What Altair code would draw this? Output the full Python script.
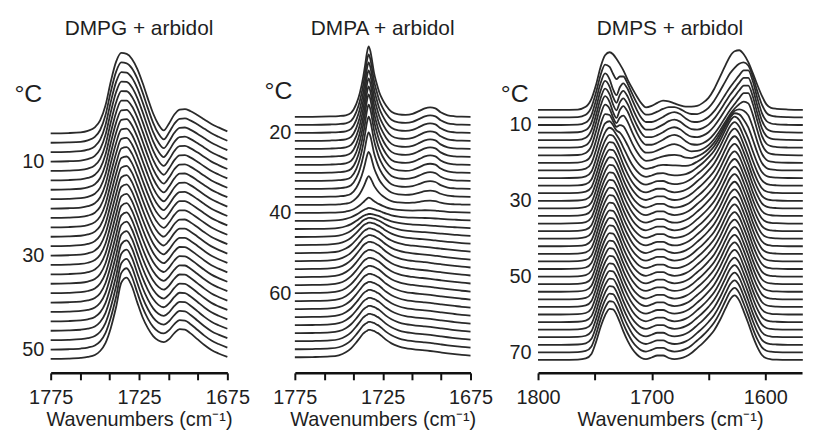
import altair as alt
import pandas as pd

FONT = "Liberation Sans"
INK = "#1e1e1e"
LINE = "#2a2a2a"

TITLES = ["DMPG + arbidol", "DMPA + arbidol", "DMPS + arbidol"]
X_TITLE = "Wavenumbers (cm\u207b\u00b9)"

# ---------------- Panel 1: DMPG + arbidol ----------------
P1_WN = [1775, 1765, 1758, 1754, 1750, 1747, 1744, 1741, 1738, 1735, 1732, 1729, 1726, 1723,
         1720, 1717, 1714, 1711, 1708, 1705, 1702, 1699, 1696, 1692, 1688, 1684, 1680, 1675]
# absorbance profile (arb. units) of the coldest spectrum
P1_COLD = [0, 0.3, 1, 2.5, 6, 13, 28, 52, 72, 81, 80, 75, 65, 51,
           35, 20, 9, 3, 10, 19, 24, 24.5, 22.5, 18.5, 14, 9.5, 6, 2]
# absorbance profile of the warmest spectrum
P1_WARM = [0, 0.3, 1, 2, 4, 8, 16, 31, 52, 77, 82, 73, 57, 42,
           31, 23, 18.5, 17, 20, 26, 30, 29.5, 26, 20, 14, 9, 5.5, 2]
P1_TEMPS = [4, 6, 8, 10, 12, 14, 16, 18, 20, 22, 24, 26, 28, 30, 32, 34, 36, 38, 40, 42, 44, 46, 48, 50, 52]
P1_WARM_SHARE = [0.0, 0.03, 0.07, 0.11, 0.15, 0.19, 0.23, 0.27, 0.31, 0.35, 0.39, 0.43, 0.47,
                 0.51, 0.55, 0.59, 0.63, 0.67, 0.71, 0.75, 0.8, 0.85, 0.9, 0.95, 1.0]
P1_X_TICKS = [1775, 1758.333, 1741.667, 1725, 1708.333, 1691.667, 1675]
P1_Y_LABELS = [10, 30, 50]

# ---------------- Panel 2: DMPA + arbidol ----------------
P2_WN = [1775, 1765, 1755, 1750, 1746, 1743, 1740, 1738, 1736, 1735, 1734, 1733, 1732, 1731,
         1730, 1728.5, 1727, 1725, 1723, 1720, 1716, 1712, 1708, 1704, 1701, 1698, 1695, 1692,
         1688, 1684, 1680, 1675]
P2_SHARP = [0, 0, 0.3, 0.7, 1.5, 4, 13, 24, 41, 52, 64, 71, 66, 56,
            45, 34, 25, 17, 11, 5, 2.5, 2, 3, 6, 8.5, 9.5, 8.5, 4.5,
            1.5, 0.5, 0.2, 0]
P2_BROAD = [0, 0.2, 0.8, 2, 5, 9, 15, 19.5, 24, 25.5, 26.5, 27.5, 27.5, 27,
            26.5, 25, 23.5, 20.5, 17.5, 14, 11, 9.2, 8.2, 7.4, 6.9, 6.3, 5.6, 4.9,
            4, 3.2, 2.4, 1.6]
P2_TEMPS = [16, 18, 20, 22, 24, 26, 28, 30, 32, 34, 36, 38, 40, 42, 44, 46, 48, 50, 52, 54,
            56, 58, 60, 62, 64, 66, 68, 70, 72, 74, 76]
P2_SHARP_SHARE = [1, 1, 1, 1, 1, 1, 1, 0.97, 0.9, 0.78, 0.6, 0.35, 0.12, 0.03, 0, 0,
                  0, 0, 0, 0, 0, 0, 0, 0, 0, 0, 0, 0, 0, 0, 0]
P2_BROAD_SHARE = [0, 0, 0, 0, 0, 0, 0, 0, 0.03, 0.06, 0.1, 0.15, 0.25, 0.4, 0.55, 0.7,
                  0.82, 0.9, 0.95, 1, 1, 1, 1, 1, 1, 1, 1, 1, 1, 1, 1]
P2_X_TICKS = [1775, 1758.333, 1741.667, 1725, 1708.333, 1691.667, 1675]
P2_Y_LABELS = [20, 40, 60]

# ---------------- Panel 3: DMPS + arbidol ----------------
P3_WN = [1800, 1780, 1765, 1758, 1753, 1749, 1745, 1741, 1737, 1734, 1731, 1728, 1725, 1721,
         1717, 1713, 1709, 1705, 1700, 1695, 1690, 1685, 1680, 1675, 1670, 1665, 1660, 1655,
         1650, 1645, 1640, 1635, 1631, 1627, 1623, 1619, 1615, 1611, 1607, 1603, 1599, 1595,
         1590, 1580, 1567]
P3_FIRST = [0, 0, 0.3, 3, 11, 25, 43, 55, 58, 56, 51.5, 46, 40, 30,
            21.5, 13.5, 6.5, 2.5, 4, 7, 9.3, 8.5, 6.5, 4.5, 3.3, 3.3, 4, 7,
            12, 21, 33, 45, 54, 59, 60, 56, 48, 37, 25, 14, 5.5, 2,
            1, 0.3, 0]
P3_GEL = [0, 0, 0.3, 2.5, 10, 25, 42, 52, 46, 36, 30, 38, 42, 36,
          25, 15, 7, 3, 3, 5, 8, 11.5, 13, 11, 6.5, 3.5, 3, 4.5,
          8, 14, 22, 31, 38, 44, 50, 55, 55, 44, 27, 12, 4, 1.5,
          0.7, 0.2, 0]
P3_FLUID = [0, 0, 0.3, 1.5, 6, 18, 33, 45, 51.5, 51, 46, 38, 29, 19,
            11, 5.5, 2, 0.8, 2.5, 4.5, 4.5, 2, 0.8, 1.5, 3.5, 7, 12, 17,
            23, 30, 40, 52, 61, 65, 60, 49, 37, 24, 13, 5, 1.7, 0.7,
            0.3, 0, 0]
P3_TEMPS = [6, 8, 10, 12, 14, 16, 18, 20, 22, 24, 26, 28, 30, 32, 34, 36, 38, 40, 42, 44,
            46, 48, 50, 52, 54, 56, 58, 60, 62, 64, 66, 68, 70, 72]
P3_FIRST_SHARE = [1, 0.4, 0, 0, 0, 0, 0, 0, 0, 0, 0, 0, 0, 0, 0, 0, 0, 0, 0, 0,
                  0, 0, 0, 0, 0, 0, 0, 0, 0, 0, 0, 0, 0, 0]
P3_GEL_SHARE = [0, 0.6, 1, 1, 1, 1, 0.85, 0.6, 0.35, 0.15, 0.05, 0, 0, 0, 0, 0, 0, 0, 0, 0,
                0, 0, 0, 0, 0, 0, 0, 0, 0, 0, 0, 0, 0, 0]
P3_FLUID_SHARE = [0, 0, 0, 0, 0, 0, 0.15, 0.4, 0.65, 0.85, 0.95, 1, 1, 1, 1, 1, 1, 1, 1, 1,
                  1, 1, 1, 1, 1, 1, 1, 1, 1, 1, 1, 1, 1, 1]
P3_X_TICKS = [1800, 1750, 1700, 1650, 1600]
P3_Y_LABELS = [10, 30, 50, 70]

# absorbance units per degree of vertical offset, per panel
UNITS_PER_DEG = [4.735, 4.038, 3.818]


def build(temps, wn, profiles, shares, units):
    rows = []
    for i, t in enumerate(temps):
        for j, w in enumerate(wn):
            h = sum(p[j] * s[i] for p, s in zip(profiles, shares))
            rows.append({"T": t, "wn": w, "y": t - h / units})
    return pd.DataFrame(rows)


df1 = build(P1_TEMPS, P1_WN, [P1_COLD, P1_WARM],
            [[1 - s for s in P1_WARM_SHARE], P1_WARM_SHARE], UNITS_PER_DEG[0])
df2 = build(P2_TEMPS, P2_WN, [P2_SHARP, P2_BROAD],
            [P2_SHARP_SHARE, P2_BROAD_SHARE], UNITS_PER_DEG[1])
df3 = build(P3_TEMPS, P3_WN, [P3_FIRST, P3_GEL, P3_FLUID],
            [P3_FIRST_SHARE, P3_GEL_SHARE, P3_FLUID_SHARE], UNITS_PER_DEG[2])


def panel(df, title, xdom, xticks, label_step, ydom, ylabels, width, cx, cy, lpad):
    return alt.Chart(df).mark_line(
        color=LINE, strokeWidth=1.8, interpolate="monotone"
    ).encode(
        x=alt.X("wn:Q",
                scale=alt.Scale(domain=xdom, nice=False, zero=False),
                axis=alt.Axis(values=xticks, format="d",
                              labelExpr=f"datum.value % {label_step} == 0 ? datum.label : ''",
                              title=X_TITLE, grid=False, domainWidth=2.5, domainColor="#111",
                              tickColor="#111", tickWidth=2, tickSize=7, labelPadding=8,
                              titlePadding=2, labelFlush=False, titleFontSize=20)),
        y=alt.Y("y:Q",
                scale=alt.Scale(domain=ydom, reverse=True, nice=False, zero=False),
                axis=alt.Axis(values=ylabels, format="d", domain=False, ticks=False, grid=False,
                              labelPadding=lpad, title="\u00b0C", titleAngle=0,
                              titleX=cx, titleY=cy, titleAlign="center",
                              titleBaseline="middle", titleFontSize=25)),
        detail="T:N",
    ).properties(
        width=width, height=334,
        title=alt.TitleParams(title, fontSize=21, fontWeight="normal", font=FONT,
                              color=INK, offset=2, anchor="middle"),
    )


c1 = panel(df1, TITLES[0], [1775, 1675], P1_X_TICKS, 25, [-15.58, 54.96], P1_Y_LABELS, 178, -23, 53, 7)
c2 = panel(df2, TITLES[1], [1775, 1675], P2_X_TICKS, 25, [-2.82, 79.89], P2_Y_LABELS, 177, -17, 50, 4)
c3 = panel(df3, TITLES[2], [1800, 1567.7], P3_X_TICKS, 100, [-12.07, 75.40], P3_Y_LABELS, 266, -24, 53, 7)

chart = alt.hconcat(c1, c2, c3, spacing=68, bounds="flush").properties(
    padding={"left": 5, "top": 9, "right": 0, "bottom": 0}
).configure_view(stroke=None).configure_axis(
    labelFont=FONT, titleFont=FONT, labelFontSize=20, titleFontSize=20,
    labelColor=INK, titleColor=INK, titleFontWeight="normal"
)

chart.save("out.html", embed_options={"renderer": "svg", "actions": False})
